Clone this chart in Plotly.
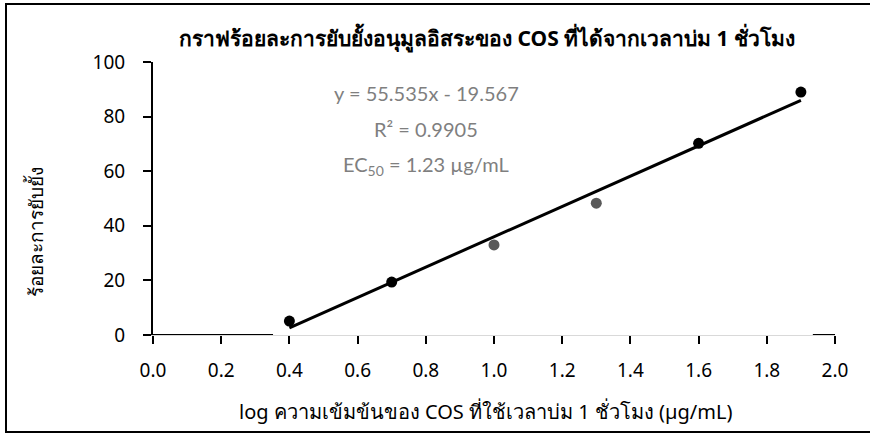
import plotly.graph_objects as go

# Inhibition (%) of free radicals by COS after 1 h incubation
log_conc = [0.4, 0.7, 1.0, 1.3, 1.6, 1.9]
inhibition = [5.1, 19.4, 33.0, 48.3, 70.2, 89.0]
point_colors = ["#000000", "#000000", "#595959", "#595959", "#000000", "#000000"]

slope = 55.535
intercept = -19.567
r_squared = 0.9905
ec50 = 1.23

x_ticks = [0.0, 0.2, 0.4, 0.6, 0.8, 1.0, 1.2, 1.4, 1.6, 1.8, 2.0]
y_ticks = [0, 20, 40, 60, 80, 100]

title_text = "กราฟร้อยละการยับยั้งอนุมูลอิสระของ COS ที่ได้จากเวลาบ่ม 1 ชั่วโมง"
x_title = "log ความเข้มข้นของ COS ที่ใช้เวลาบ่ม 1 ชั่วโมง (µg/mL)"
y_title = "ร้อยละการยับยั้ง"

# plot area in pixels
W, H = 870, 434
L, R, T, B = 153, 35, 62, 99
pw, ph = W - L - R, H - T - B


def px(x):
    return (x - L) / pw


def py(y):
    return (H - B - y) / ph


fit_x = [min(log_conc), max(log_conc)]
fit_y = [slope * v + intercept for v in fit_x]

tick_font = dict(family="Noto Sans, sans-serif", size=19, color="#000000")

fig = go.Figure()
fig.add_trace(go.Scatter(
    x=log_conc, y=inhibition, mode="markers",
    marker=dict(size=11, color=point_colors, line=dict(width=0)),
    showlegend=False, cliponaxis=False,
))
fig.add_trace(go.Scatter(
    x=fit_x, y=fit_y, mode="lines",
    line=dict(color="#000000", width=3),
    showlegend=False,
))

fig.update_layout(
    width=W, height=H,
    margin=dict(l=L, r=R, t=T, b=B, autoexpand=False),
    paper_bgcolor="white", plot_bgcolor="white",
    xaxis=dict(
        range=[0, 2], tickvals=x_ticks,
        ticktext=[f"{v:.1f}" for v in x_ticks],
        showgrid=False, zeroline=False,
        showline=True, linecolor="#d9d9d9", linewidth=1,
        ticks="outside", ticklen=8, tickcolor="#000000", tickwidth=1.5,
        ticklabelstandoff=10,
        tickfont=tick_font,
    ),
    yaxis=dict(
        range=[0, 100], tickvals=y_ticks,
        showgrid=False, zeroline=False,
        showline=True, linecolor="#000000", linewidth=2,
        ticks="outside", ticklen=8, tickcolor="#000000", tickwidth=1.5,
        ticklabelstandoff=14,
        tickfont=tick_font,
    ),
    font=dict(family="Noto Sans, sans-serif", color="#000000"),
)

# darker segments of the baseline at both ends
for x0, x1 in [(0.0, 0.352), (1.935, 2.0)]:
    fig.add_shape(type="line", xref="x", yref="y", x0=x0, x1=x1, y0=0, y1=0,
                  line=dict(color="#000000", width=2))

# outer frame
fig.add_shape(type="rect", xref="paper", yref="paper",
              x0=px(6), x1=px(875), y0=py(432), y1=py(4),
              line=dict(color="#000000", width=2), layer="below")


def label(text, xpix, ypix, font, angle=0):
    fig.add_annotation(text=text, xref="paper", yref="paper",
                       x=px(xpix), y=py(ypix), xanchor="center", yanchor="middle",
                       showarrow=False, textangle=angle, font=font)


label("<b>" + title_text + "</b>", 487, 38, dict(size=21, color="#000000"))
label(x_title, 485, 411, dict(size=20, color="#000000"))
label(y_title, 36, 232, dict(size=19, color="#000000"), angle=-90)

eq_font = dict(family="Lato, Open Sans, sans-serif", size=20, color="#7f7f7f")
sign = "-" if intercept < 0 else "+"
eq_lines = [
    f"y = {slope}x {sign} {abs(intercept)}",
    f"R² = {r_squared}",
    f"EC<sub>50</sub> = {ec50} µg/mL",
]
for text, ypix in zip(eq_lines, [93, 129, 165]):
    label(text, 426, ypix, eq_font)

fig.write_html("out.html")
